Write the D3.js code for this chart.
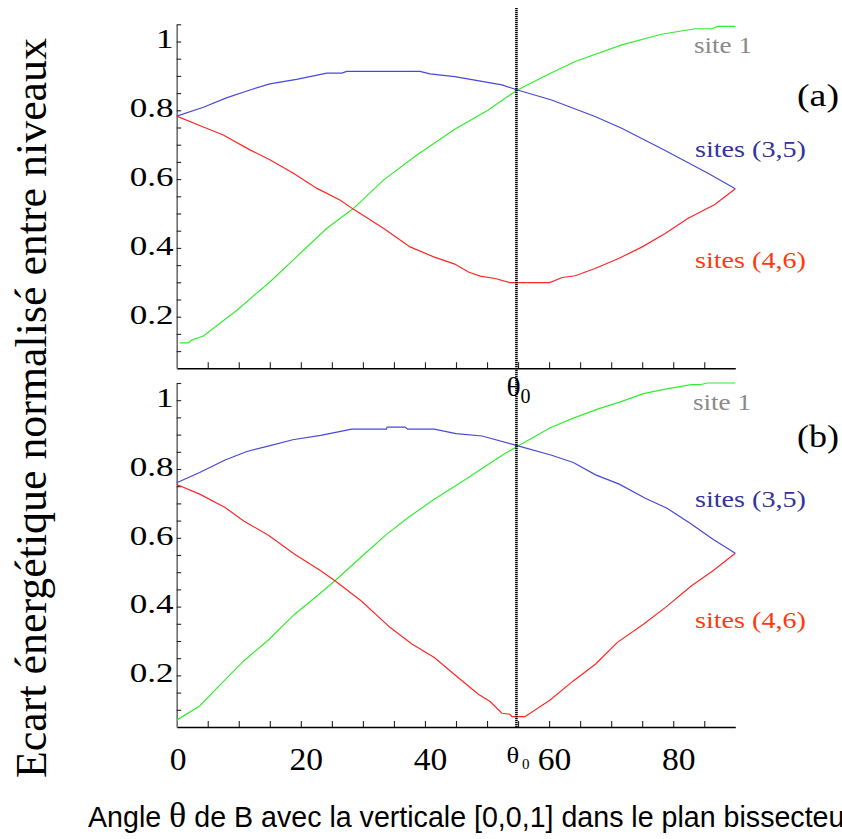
<!DOCTYPE html>
<html>
<head>
<meta charset="utf-8">
<script src="https://cdn.jsdelivr.net/npm/d3@7"></script>
<style>
  body { margin: 0; background: #fff; }
  svg { display: block; }
</style>
</head>
<body>
<svg id="chart"></svg>
<script>
// values: [angle in degrees, normalised gap]
const blueA = [[0,0.783],[4.3,0.809],[8,0.836],[11.8,0.859],[15,0.877],[19.3,0.890],[24.2,0.908],[26.6,0.908],[27.4,0.913],[39.2,0.913],[40.8,0.906],[44.8,0.898],[52.4,0.874],[54.9,0.859],[60.4,0.830],[67.4,0.782],[71.7,0.748],[78.7,0.683],[85.6,0.617],[90,0.572]];
const redA = [[0,0.783],[3.8,0.755],[7.5,0.728],[11.8,0.685],[15,0.656],[18.8,0.617],[22.6,0.573],[26.3,0.539],[28.5,0.512],[33.3,0.457],[37.6,0.403],[41.4,0.374],[44.8,0.353],[47,0.330],[48.9,0.318],[51.3,0.311],[53.7,0.299],[60.1,0.299],[62.1,0.314],[64.2,0.319],[67.4,0.340],[71.2,0.369],[75,0.403],[78.7,0.442],[82.4,0.486],[86.7,0.526],[90,0.572]];
const greenA = [[0.5,0.124],[1.9,0.124],[2.4,0.132],[4.3,0.144],[9.7,0.219],[15,0.301],[19.3,0.374],[24.2,0.457],[28.5,0.515],[33.3,0.597],[38.7,0.670],[44.8,0.745],[50.2,0.801],[52.9,0.835],[54.9,0.859],[59.9,0.905],[64.2,0.942],[71.7,0.990],[78.1,1.021],[83.5,1.037],[86.2,1.037],[87.2,1.044],[90,1.044]];

const blueB = [[0,0.760],[3.7,0.790],[7.8,0.826],[11.3,0.851],[14.9,0.867],[18.7,0.885],[23.2,0.898],[28.2,0.916],[33.8,0.916],[33.9,0.922],[36.8,0.922],[37.2,0.916],[41.5,0.916],[45,0.903],[49.2,0.896],[55,0.867],[60.4,0.840],[63.9,0.819],[67.5,0.783],[71.3,0.756],[75.5,0.715],[79,0.686],[82.9,0.640],[86.4,0.596],[90,0.555]];
const redB = [[0,0.755],[3.7,0.727],[7.8,0.688],[10.8,0.649],[14.9,0.606],[19,0.552],[23.2,0.504],[25.5,0.475],[29.7,0.417],[34.4,0.339],[37.9,0.291],[41.5,0.252],[45,0.199],[48.6,0.145],[50.5,0.124],[52.4,0.090],[53.7,0.087],[54,0.080],[56.1,0.080],[60.1,0.128],[63.9,0.184],[67.5,0.233],[71,0.296],[75.2,0.349],[78.7,0.397],[82.9,0.460],[86.4,0.504],[90,0.555]];
const greenB = [[0,0.070],[3.7,0.111],[6.6,0.165],[10.8,0.242],[14.9,0.305],[19,0.378],[22.6,0.431],[25.5,0.475],[29.9,0.547],[33.8,0.610],[37.3,0.659],[41.5,0.712],[46.2,0.766],[49.8,0.809],[52.7,0.843],[55,0.867],[60.1,0.919],[63.9,0.948],[67.8,0.974],[71.6,0.996],[75.2,1.019],[78.7,1.032],[82.9,1.045],[84.3,1.045],[85.5,1.050],[90,1.050]];

const theta0 = 54.74; // magic angle
const xTickValues = d3.range(1, 18).map(i => i * 5);
const xLabelValues = [0, 20, 40, 60, 80];
const yTickValues = d3.range(2, 22).map(i => i * 0.05);
const yLabelValues = [0.2, 0.4, 0.6, 0.8, 1];
const seriesNames = ["site 1", "sites (3,5)", "sites (4,6)"];

const SERIF = "'Liberation Serif', 'Times New Roman', Times, Tinos, serif";
const SANS = "'Liberation Sans', Arial, Helvetica, sans-serif";

const config = {
    width: 842,
    height: 839,
    colors: { green: "#2fee2f", blue: "#4848d8", red: "#ff2626" },
    labelColors: ["#8a8a8a", "#333399", "#ff3a12"]
};

const svg = d3.select("#chart")
    .attr("width", config.width)
    .attr("height", config.height)
    .attr("font-family", SERIF);

const x = d3.scaleLinear().domain([0, 90]).range([176.7, 735.3]);

// text helper: place at (x, y) and stretch horizontally to a given width (or factor)
function addText(parent, str, tx, ty, opts) {
    const t = parent.append("text")
        .attr("text-anchor", opts.anchor || "start")
        .attr("font-family", opts.family || SERIF)
        .attr("font-size", opts.size)
        .attr("fill", opts.color || "#000")
        .text(str);
    let sx = opts.sx || 1;
    if (opts.width) sx = opts.width / t.node().getComputedTextLength();
    t.attr("transform", `translate(${tx},${ty}) scale(${sx},1)`);
    return t;
}

const panels = [
    {
        name: "a", top: 24.3, bottom: 368.3,
        series: [[greenA, "green"], [blueA, "blue"], [redA, "red"]],
        letter: "(a)", letterPos: [797, 106],
        labelPos: [[694, 53], [695, 157], [695, 268]]
    },
    {
        name: "b", top: 383, bottom: 727,
        series: [[greenB, "green"], [blueB, "blue"], [redB, "red"]],
        letter: "(b)", letterPos: [797, 447],
        labelPos: [[693, 410], [695, 506.5], [695, 628]]
    }
];

panels.forEach(p => {
    const y = d3.scaleLinear().domain([0.05, 1.05]).range([p.bottom, p.top]);
    const g = svg.append("g").attr("class", "panel-" + p.name);

    // x axis, ticks pointing inward
    g.append("g")
        .attr("transform", `translate(0,${p.bottom})`)
        .call(d3.axisTop(x).tickValues(xTickValues).tickSize(6).tickSizeOuter(0).tickFormat(""))
        .call(a => a.select(".domain").attr("stroke", "#000").attr("stroke-width", 1.4))
        .call(a => a.selectAll(".tick line").attr("stroke", "#222").attr("stroke-width", 1.1));

    // y axis
    g.append("g")
        .attr("transform", `translate(${x(0)},0)`)
        .call(d3.axisRight(y).tickValues(yTickValues).tickSize(4.5).tickSizeOuter(0).tickFormat(""))
        .call(a => a.select(".domain").attr("stroke", "#6e6e6e").attr("stroke-width", 1.6))
        .call(a => a.selectAll(".tick line").attr("stroke", "#222").attr("stroke-width", 1.1));

    yLabelValues.forEach(v => {
        addText(g, v === 1 ? "1" : v.toFixed(1), 173.5, y(v) + 6.8,
            { anchor: "end", size: 27, sx: 1.3 });
    });

    const line = d3.line().x(d => x(d[0])).y(d => y(d[1]));
    g.selectAll(".curve")
        .data(p.series)
        .join("path")
        .attr("class", "curve")
        .attr("d", d => line(d[0]))
        .attr("fill", "none")
        .attr("stroke", d => config.colors[d[1]])
        .attr("stroke-width", 1.2);

    seriesNames.forEach((s, i) => {
        addText(g, s, p.labelPos[i][0], p.labelPos[i][1],
            { size: 24, width: i === 0 ? 58 : 111, color: config.labelColors[i] });
    });
    addText(g, p.letter, p.letterPos[0], p.letterPos[1], { size: 32, width: 42 });
});

// theta0 marker line
svg.append("line")
    .attr("x1", x(theta0)).attr("x2", x(theta0))
    .attr("y1", 8).attr("y2", 727)
    .attr("stroke", "#000")
    .attr("stroke-width", 2.6)
    .attr("stroke-dasharray", "1.2,0.8");

addText(svg, "θ", 506.5, 396, { size: 27, sx: 1.1 });
addText(svg, "0", 520.5, 403, { size: 20 });

// bottom axis labels
xLabelValues.forEach(v => {
    addText(svg, String(v), x(v) + (v === 0 ? 1.5 : 5.5), 770, { anchor: "middle", size: 32, sx: 1.05 });
});
addText(svg, "θ", 506.5, 763, { size: 24, sx: 1.1 });
addText(svg, "0", 522, 769, { size: 15 });

// axis titles
const xt = svg.append("text")
    .attr("x", 88).attr("y", 827)
    .attr("font-family", SANS)
    .attr("font-size", 28.6)
    .attr("fill", "#000");
xt.append("tspan").text("Angle ");
xt.append("tspan").attr("font-family", SERIF).attr("font-size", 36).text("θ");
xt.append("tspan").text(" de B avec la verticale [0,0,1] dans le plan bissecteur");

const yt = svg.append("text")
    .attr("text-anchor", "middle")
    .attr("font-family", SERIF)
    .attr("font-size", 44)
    .text("Ecart énergétique normalisé entre niveaux");
const ytScale = 740 / yt.node().getComputedTextLength();
yt.attr("transform", `translate(46,408) rotate(-90) scale(${ytScale},1)`);
</script>
</body>
</html>
